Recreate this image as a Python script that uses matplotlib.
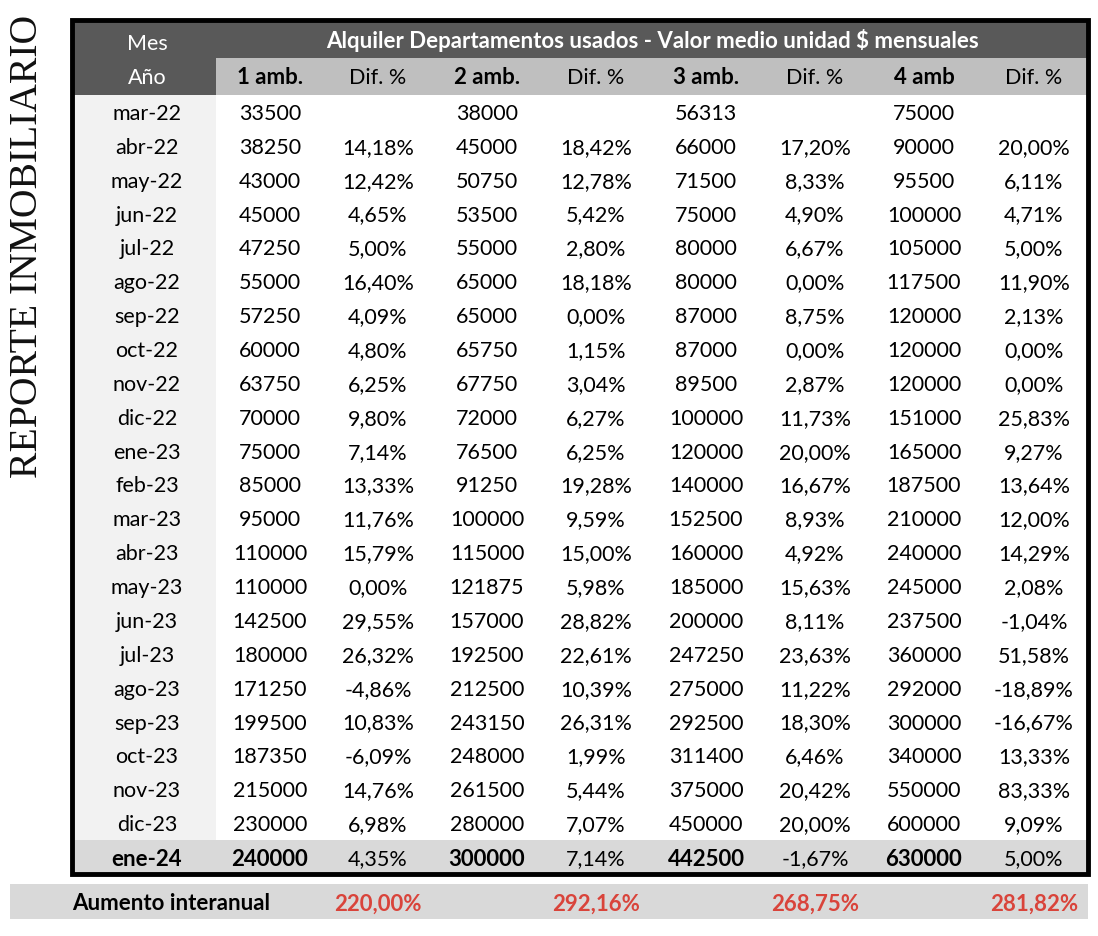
import matplotlib.pyplot as plt
from matplotlib.patches import Rectangle

meses = ['mar-22', 'abr-22', 'may-22', 'jun-22', 'jul-22', 'ago-22', 'sep-22', 'oct-22',
         'nov-22', 'dic-22', 'ene-23', 'feb-23', 'mar-23', 'abr-23', 'may-23', 'jun-23',
         'jul-23', 'ago-23', 'sep-23', 'oct-23', 'nov-23', 'dic-23', 'ene-24']
amb1 = [33500, 38250, 43000, 45000, 47250, 55000, 57250, 60000, 63750, 70000, 75000, 85000,
        95000, 110000, 110000, 142500, 180000, 171250, 199500, 187350, 215000, 230000, 240000]
dif1 = [None, 14.18, 12.42, 4.65, 5.00, 16.40, 4.09, 4.80, 6.25, 9.80, 7.14, 13.33,
        11.76, 15.79, 0.00, 29.55, 26.32, -4.86, 10.83, -6.09, 14.76, 6.98, 4.35]
amb2 = [38000, 45000, 50750, 53500, 55000, 65000, 65000, 65750, 67750, 72000, 76500, 91250,
        100000, 115000, 121875, 157000, 192500, 212500, 243150, 248000, 261500, 280000, 300000]
dif2 = [None, 18.42, 12.78, 5.42, 2.80, 18.18, 0.00, 1.15, 3.04, 6.27, 6.25, 19.28,
        9.59, 15.00, 5.98, 28.82, 22.61, 10.39, 26.31, 1.99, 5.44, 7.07, 7.14]
amb3 = [56313, 66000, 71500, 75000, 80000, 80000, 87000, 87000, 89500, 100000, 120000, 140000,
        152500, 160000, 185000, 200000, 247250, 275000, 292500, 311400, 375000, 450000, 442500]
dif3 = [None, 17.20, 8.33, 4.90, 6.67, 0.00, 8.75, 0.00, 2.87, 11.73, 20.00, 16.67,
        8.93, 4.92, 15.63, 8.11, 23.63, 11.22, 18.30, 6.46, 20.42, 20.00, -1.67]
amb4 = [75000, 90000, 95500, 100000, 105000, 117500, 120000, 120000, 120000, 151000, 165000, 187500,
        210000, 240000, 245000, 237500, 360000, 292000, 300000, 340000, 550000, 600000, 630000]
dif4 = [None, 20.00, 6.11, 4.71, 5.00, 11.90, 2.13, 0.00, 0.00, 25.83, 9.27, 13.64,
        12.00, 14.29, 2.08, -1.04, 51.58, -18.89, -16.67, 13.33, 83.33, 9.09, 5.00]
encabezados = ['1 amb.', 'Dif. %', '2 amb.', 'Dif. %', '3 amb.', 'Dif. %', '4 amb', 'Dif. %']
aumento = [220.00, 292.16, 268.75, 281.82]

titulo = 'Alquiler Departamentos usados - Valor medio unidad $ mensuales'

def pct(v):
    if v is None:
        return ''
    return f'{v:.2f}'.replace('.', ',') + '%'

fig = plt.figure(figsize=(10.98, 9.36), dpi=100)
ax = fig.add_axes([0, 0, 1, 1])
ax.set_xlim(0, 1098)
ax.set_ylim(936, 0)
ax.axis('off')

fuente = 'Lato'
fs = 15.5   # texto normal
fb = 16     # texto en negrita
dy = 2      # bajar un poco el texto

# geometria
x0, x1 = 72, 1088
xmes = 216
centros = [270, 378, 487, 596, 706, 815, 924, 1034]
y_h1, y_h2, y_d = 22, 58, 95
alto = (874 - y_d) / len(meses)

# encabezados
ax.add_patch(Rectangle((x0, y_h1), x1 - x0, y_h2 - y_h1, color='#595959', lw=0))
ax.add_patch(Rectangle((x0, y_h2), xmes - x0, y_d - y_h2, color='#595959', lw=0))
ax.add_patch(Rectangle((xmes, y_h2), x1 - xmes, y_d - y_h2, color='#bfbfbf', lw=0))
ax.text(147, 42 + dy, 'Mes', ha='center', va='center', color='white', fontsize=fs, family=fuente)
ax.text(147, 76 + dy, 'Año', ha='center', va='center', color='white', fontsize=fs, family=fuente)
ax.text(653, 39 + dy, titulo, ha='center', va='center', color='white', fontsize=fb,
        fontweight='bold', family=fuente)
for c, h in zip(centros, encabezados):
    negrita = 'amb' in h
    ax.text(c, 76 + dy, h, ha='center', va='center', color='black',
            fontsize=fb if negrita else fs,
            fontweight='bold' if negrita else 'normal', family=fuente)

# columna de meses
ax.add_patch(Rectangle((x0, y_d), xmes - x0, alto * (len(meses) - 1), color='#f2f2f2', lw=0))
# ultima fila
ax.add_patch(Rectangle((x0, y_d + alto * (len(meses) - 1)), x1 - x0, alto, color='#d9d9d9', lw=0))

columnas = [amb1, dif1, amb2, dif2, amb3, dif3, amb4, dif4]
n = len(meses)
for i in range(n):
    yc = y_d + alto * (i + 0.5) + dy
    ultimo = i == n - 1
    ax.text(147, yc, meses[i], ha='center', va='center', family=fuente,
            fontsize=fb if ultimo else fs, fontweight='bold' if ultimo else 'normal')
    for j, col in enumerate(columnas):
        if j % 2 == 0:
            txt = str(col[i])
            negrita = ultimo
        else:
            txt = pct(col[i])
            negrita = False
        ax.text(centros[j], yc, txt, ha='center', va='center', family=fuente,
                fontsize=fb if negrita else fs,
                fontweight='bold' if negrita else 'normal')

# borde
ax.add_patch(Rectangle((x0, y_h1 - 2), x1 - x0, 874 - y_h1 + 2, fill=False,
                       ec='black', lw=3.5))

# fila de aumento interanual
ax.add_patch(Rectangle((10, 884), 1078, 35, color='#d9d9d9', lw=0))
ax.text(72, 902 + dy, 'Aumento interanual', ha='left', va='center', fontsize=fb,
        fontweight='bold', family=fuente)
for k, v in enumerate(aumento):
    ax.text(centros[2 * k + 1], 902 + dy, pct(v), ha='center', va='center', fontsize=fb,
            fontweight='bold', color='#d9443b', family=fuente)

# titulo vertical
ax.text(28, 246, 'REPORTE INMOBILIARIO', rotation=90, ha='center', va='center',
        fontsize=28.5, family='Liberation Serif', color='#111111')

fig.savefig('out.png', dpi=100)
